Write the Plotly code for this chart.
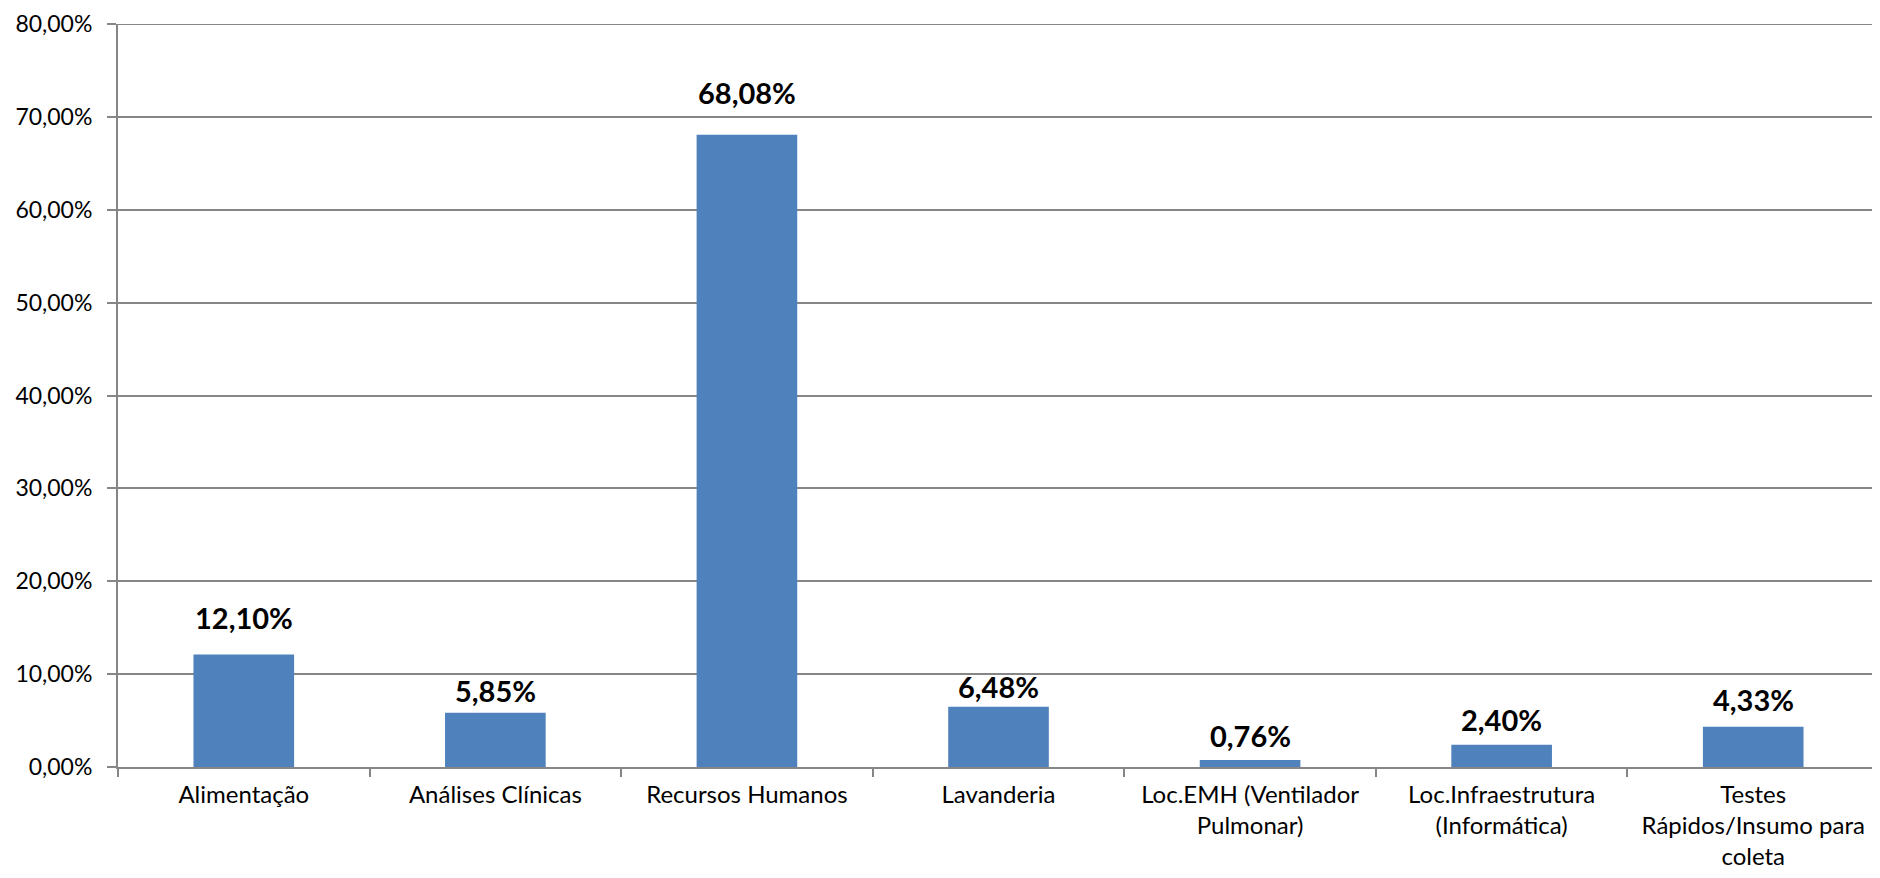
import plotly.graph_objects as go

categories = [
    "Alimentação",
    "Análises Clínicas",
    "Recursos Humanos",
    "Lavanderia",
    "Loc.EMH (Ventilador<br>Pulmonar)",
    "Loc.Infraestrutura<br>(Informática)",
    "Testes<br>Rápidos/Insumo para<br>coleta",
]
values = [0.1210, 0.0585, 0.6808, 0.0648, 0.0076, 0.0240, 0.0433]
value_labels = ["12,10%", "5,85%", "68,08%", "6,48%", "0,76%", "2,40%", "4,33%"]
y_ticks = [0, 0.1, 0.2, 0.3, 0.4, 0.5, 0.6, 0.7, 0.8]

# style: vertical gap (px) between bar top and label centre
label_gap = [37, 22, 42, 20, 24, 25, 27]

FONT = "Lato, 'Open Sans', sans-serif"
GRID = "#868686"

fig = go.Figure(
    go.Bar(
        x=categories,
        y=values,
        marker=dict(color="#4F81BD", line=dict(width=0)),
        hoverinfo="skip",
    )
)

for c, v, t, g in zip(categories, values, value_labels, label_gap):
    fig.add_annotation(
        x=c, y=v, text="<b>" + t + "</b>", showarrow=False,
        yanchor="middle", yshift=g,
        font=dict(family=FONT, size=29, color="#000000"),
    )

# top gridline at the last tick (plotly omits gridlines on the range edge)
fig.add_shape(
    type="line", xref="paper", yref="y", x0=0, x1=1,
    y0=y_ticks[-1], y1=y_ticks[-1],
    line=dict(color=GRID, width=2), layer="below",
)

fig.update_layout(
    width=1872, height=870,
    margin=dict(l=110, r=1, t=14, b=111),
    paper_bgcolor="white", plot_bgcolor="white",
    bargap=0.6,
    separators=",.",
    showlegend=False,
    font=dict(family=FONT, size=23, color="#000000"),
)
fig.update_xaxes(
    showline=True, linecolor=GRID, linewidth=2,
    ticks="outside", tickson="boundaries", ticklen=8, tickcolor=GRID, tickwidth=2,
    showgrid=False, tickfont=dict(family=FONT, size=24, color="#000000"),
    ticklabelstandoff=5,
)
fig.update_yaxes(
    range=[0, 0.8], tickvals=y_ticks, tickformat=".2%",
    showgrid=True, gridcolor=GRID, gridwidth=2,
    showline=True, linecolor=GRID, linewidth=2,
    ticks="outside", ticklen=9, tickcolor=GRID, tickwidth=2,
    zeroline=False, tickfont=dict(family=FONT, size=23, color="#000000"),
    ticklabelstandoff=10, ticklabeloverflow="allow",
)

fig.write_html("out.html")
